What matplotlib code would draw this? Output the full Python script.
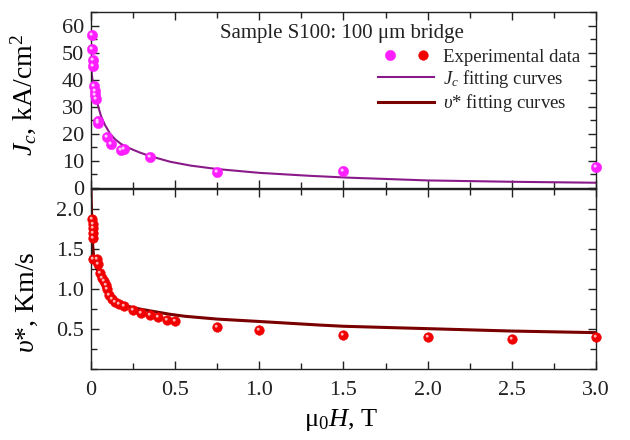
import numpy as np
import matplotlib
matplotlib.use("Agg")
import matplotlib.pyplot as plt
from matplotlib.ticker import MultipleLocator, FuncFormatter
from matplotlib.legend_handler import HandlerTuple
from matplotlib.markers import MarkerStyle
from matplotlib.transforms import Affine2D

plt.rcParams['font.family'] = ['Liberation Serif', 'DejaVu Serif']
plt.rcParams['mathtext.fontset'] = 'custom'
plt.rcParams['mathtext.rm'] = 'Liberation Serif'
plt.rcParams['mathtext.it'] = 'Liberation Serif:italic'

# Jc experimental data (field in T, Jc in kA/cm^2)
jc_h = [0.008, 0.008, 0.010, 0.012, 0.018, 0.022, 0.026, 0.030, 0.040, 0.044,
        0.093, 0.119, 0.180, 0.198, 0.350, 0.75, 1.5, 3.0]
jc_val = [56.4, 51.4, 47.2, 45.2, 37.5, 36.0, 34.5, 33.0, 24.8, 24.0,
          18.9, 16.4, 14.0, 14.3, 11.3, 6.0, 6.2, 7.6]

# Jc fitting curve
jc_fit_h = [0.002, 0.005, 0.010, 0.015, 0.024, 0.044, 0.060, 0.083, 0.113, 0.143,
            0.18, 0.232, 0.29, 0.35, 0.47, 0.59, 0.75, 1.0, 1.3, 1.54,
            2.0, 2.5, 3.0]
jc_fit = [45.0, 42.0, 39.5, 37.8, 35.4, 29.9, 26.5, 23.3, 20.1, 18.0,
          16.2, 14.6, 13.1, 11.8, 9.7, 8.3, 7.0, 5.6, 4.5, 3.8,
          2.8, 2.3, 1.95]

# v* experimental data (field in T, v* in km/s)
v_h = [0.008, 0.010, 0.011, 0.012, 0.014, 0.013, 0.037, 0.043, 0.053, 0.067,
       0.079, 0.087, 0.093, 0.109, 0.123, 0.143, 0.168, 0.196, 0.248, 0.30,
       0.35, 0.40, 0.45, 0.50, 0.75, 1.0, 1.5, 2.0, 2.5, 3.0]
v_val = [1.87, 1.81, 1.76, 1.70, 1.64, 1.38, 1.38, 1.31, 1.20, 1.14,
         1.10, 1.05, 1.00, 0.92, 0.87, 0.83, 0.81, 0.78, 0.74, 0.70,
         0.67, 0.64, 0.61, 0.59, 0.525, 0.48, 0.425, 0.40, 0.37, 0.39]

# v* fitting curve
v_fit_h = [0.0, 0.003, 0.006, 0.010, 0.016, 0.024, 0.034, 0.044, 0.06, 0.083,
           0.11, 0.143, 0.18, 0.22, 0.28, 0.36, 0.47, 0.56, 0.75, 1.0,
           1.36, 1.5, 2.0, 2.5, 3.0]
v_fit = [2.22, 2.0, 1.75, 1.55, 1.40, 1.33, 1.26, 1.20, 1.10, 0.99,
         0.91, 0.85, 0.81, 0.78, 0.75, 0.72, 0.68, 0.655, 0.62, 0.59,
         0.545, 0.53, 0.50, 0.47, 0.45]

jc_col = '#ff1eff'
v_col = '#f00000'
jc_line = '#8a1a8a'
v_line = '#7a0000'
ink = '#222222'

fig = plt.figure(figsize=(6.3, 4.4), dpi=100)
ax1 = fig.add_axes([0.1444, 0.5727, 0.8016, 0.40])
ax2 = fig.add_axes([0.1444, 0.1625, 0.8016, 0.4075])

# small highlight on each ball, shifted up-left
shine = MarkerStyle('o', transform=Affine2D().translate(-0.45, 0.45))


def balls(ax, x, y, col, light, ms):
    m, = ax.plot(x, y, 'o', color=col, ms=ms, mec=col, mew=0.3, zorder=3, clip_on=False)
    ax.plot(x, y, linestyle='none', marker=shine, color=light, ms=ms * 0.3,
            mew=0, alpha=0.9, zorder=4, clip_on=False)
    return m


lc, = ax1.plot(jc_fit_h, jc_fit, color=jc_line, lw=1.5, zorder=2)
mj = balls(ax1, jc_h, jc_val, jc_col, '#ffd8ff', 7.5)

lv, = ax2.plot(v_fit_h, v_fit, color=v_line, lw=2.2, zorder=2)
mv = balls(ax2, v_h, v_val, v_col, '#ffc8c8', 7.0)

for ax in (ax1, ax2):
    ax.set_xlim(0, 3.0)
    ax.xaxis.set_major_locator(MultipleLocator(0.5))
    ax.xaxis.set_minor_locator(MultipleLocator(0.25))
    ax.tick_params(which='both', direction='in', top=True, right=True,
                   labelsize=16, width=1.0, colors=ink)
    ax.tick_params(which='major', length=6)
    ax.tick_params(which='minor', length=4)
    for sp in ax.spines.values():
        sp.set_linewidth(1.0)
        sp.set_color(ink)

ax1.set_ylim(0, 65)
ax1.yaxis.set_major_locator(MultipleLocator(10))
ax1.yaxis.set_minor_locator(MultipleLocator(5))
ax1.tick_params(labelbottom=False)
ax1.tick_params(axis='y', pad=5)
ax1.set_ylabel(r'$J_c$, kA/cm$^2$', fontsize=20)
ax1.yaxis.set_label_coords(-0.105, 0.53)

ax2.set_ylim(0, 2.25)
ax2.set_yticks([0.5, 1.0, 1.5, 2.0])
ax2.yaxis.set_minor_locator(MultipleLocator(0.25))
ax2.yaxis.set_major_formatter(FuncFormatter(lambda v, p: '%.1f' % v))
ax2.xaxis.set_major_formatter(FuncFormatter(lambda v, p: '0' if v == 0 else '%.1f' % v))
ax2.tick_params(axis='x', pad=9)
ax2.tick_params(axis='y', pad=5)
ax2.set_ylabel(r'$\upsilon$*, Km/s', fontsize=20)
ax2.yaxis.set_label_coords(-0.1, 0.37)
ax2.set_xlabel(r'$\mathrm{\mu}_0H$, T', fontsize=19)
ax2.xaxis.set_label_coords(0.495, -0.215)

ax1.text(0.255, 0.88, 'Sample S100: 100 \u03bcm bridge', transform=ax1.transAxes,
         fontsize=15, ha='left', va='center', color=ink)

leg = ax1.legend([(mj, mv), lc, lv],
                 ['Experimental data', r'$J_c$ fitting curves', r'$\upsilon$* fitting curves'],
                 handler_map={tuple: HandlerTuple(ndivide=None, pad=0.5)},
                 loc='upper left', bbox_to_anchor=(0.55, 0.845), frameon=False,
                 fontsize=13.5, handlelength=3.0, handletextpad=0.45, labelspacing=0.12,
                 borderpad=0)
for t in leg.get_texts():
    t.set_color(ink)

fig.savefig('out.png', dpi=100)
